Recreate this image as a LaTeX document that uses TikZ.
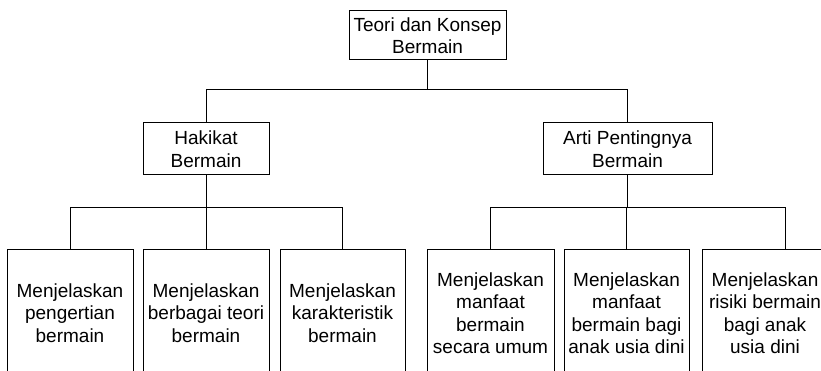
\documentclass[tikz,border=0pt]{standalone}
\usepackage{fontspec}
\setmainfont{Liberation Sans}
\begin{document}
\begin{tikzpicture}[x=1pt,y=-1pt,
  box/.style={draw, line width=1pt, inner sep=0pt, align=center,
    font=\fontsize{19}{22.5}\selectfont},
  leaf/.style={box, minimum height=128pt},
  conn/.style={line width=1pt}]
\useasboundingbox (0,0) rectangle (821,371);
\clip (0,0) rectangle (821,371);
\node[box, minimum width=157pt, minimum height=49pt] (top) at (427.5,35.5) {Teori dan Konsep\\Bermain};
\node[box, minimum width=126pt, minimum height=52pt] (h1) at (206,149) {Hakikat\\Bermain};
\node[box, minimum width=169pt, minimum height=52pt] (h2) at (627.5,149) {Arti Pentingnya\\Bermain};
\node[leaf, minimum width=126pt] (b1) at (70,313) {Menjelaskan\\pengertian\\bermain};
\node[leaf, minimum width=126pt] (b2) at (206,313) {Menjelaskan\\berbagai teori\\bermain};
\node[leaf, minimum width=125pt] (b3) at (342.5,313) {Menjelaskan\\karakteristik\\bermain};
\node[leaf, minimum width=127pt] (b4) at (490.5,313) {Menjelaskan\\manfaat\\bermain\\secara umum};
\node[leaf, minimum width=125pt] (b5) at (626.5,313) {Menjelaskan\\manfaat\\bermain bagi\\anak usia dini};
\node[leaf, minimum width=126pt] (b6) at (765,313) {Menjelaskan\\risiki bermain\\bagi anak\\usia dini};
\coordinate (j0) at (427.5,90);
\coordinate (j1) at (0,208);
\coordinate (k6) at (785,208);
\draw[conn] (top.south) -- (j0);
\draw[conn] (h1.north) -- (h1.north |- j0) -- (h2.north |- j0) -- (h2.north);
\draw[conn] (h1.south) -- (h1.south |- j1);
\draw[conn] (h2.south) -- (h2.south |- j1);
\draw[conn] (b1.north) -- (b1.north |- j1) -- (b3.north |- j1) -- (b3.north);
\draw[conn] (b2.north) -- (b2.north |- j1);
\draw[conn] (b4.north) -- (b4.north |- j1) -- (k6) -- (k6 |- b6.north);
\draw[conn] (b5.north) -- (b5.north |- j1);
\end{tikzpicture}
\end{document}
